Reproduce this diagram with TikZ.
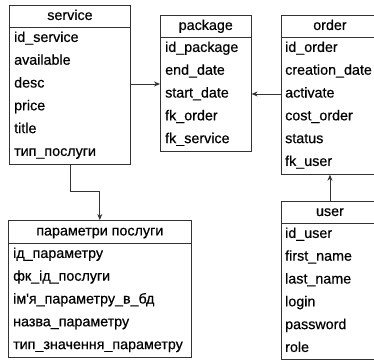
\documentclass[tikz,border=0pt]{standalone}
\usepackage{fontspec}
\setmainfont{Liberation Sans}[Ligatures=TeXOff, FakeBold=0.5]
\usetikzlibrary{arrows.meta}
\tikzset{
 tbox/.style={draw=black!80, line width=0.9pt, anchor=north west, inner sep=0pt},
 thead/.style={draw=black!80, line width=0.9pt, anchor=north west, inner sep=0pt, minimum height=22pt, text height=10pt, text depth=3pt},
 trow/.style={anchor=west, inner sep=0pt, text height=10pt, text depth=3pt},
 conn/.style={draw=black!80, line width=0.9pt, -{Stealth[length=6pt,width=5pt]}}
}
\begin{document}
\begin{tikzpicture}[x=1pt,y=-1pt,font=\fontsize{14.3}{16}\selectfont]
\useasboundingbox (0,0) rectangle (374,360);
\clip (0,0) rectangle (374,360);
% service
\node[tbox, minimum width=121pt, minimum height=158.8pt] (service) at (9,5) {};
\node[thead, minimum width=121pt] (service-h) at (9,5) {service};
\foreach \t [count=\i] in {id\_service, available, desc, price, title, тип\_послуги}
  \node[trow] (service-\i) at (14, {27+11.4+(\i-1)*22.8}) {\t};
% package
\node[tbox, minimum width=90.7pt, minimum height=136pt] (package) at (160,15) {};
\node[thead, minimum width=90.7pt] (package-h) at (160,15) {package};
\foreach \t [count=\i] in {id\_package, end\_date, start\_date, fk\_order, fk\_service}
  \node[trow] (package-\i) at (165, {37+11.4+(\i-1)*22.8}) {\t};
% order
\node[tbox, minimum width=97pt, minimum height=158.8pt] (order) at (281,15) {};
\node[thead, minimum width=97pt] (order-h) at (281,15) {order};
\foreach \t [count=\i] in {id\_order, creation\_date, activate, cost\_order, status, fk\_user}
  \node[trow] (order-\i) at (285, {37+11.4+(\i-1)*22.8}) {\t};
% user
\node[tbox, minimum width=97pt, minimum height=158pt] (user) at (281,201) {};
\node[thead, minimum width=97pt] (user-h) at (281,201) {user};
\foreach \t [count=\i] in {id\_user, first\_name, last\_name, login, password, role}
  \node[trow] (user-\i) at (285, {223+11.4+(\i-1)*22.8}) {\t};
% params
\node[tbox, minimum width=182.7pt, minimum height=137pt] (params) at (8,220) {};
\node[thead, minimum width=182.7pt, minimum height=23pt] (params-h) at (8,220) {параметри послуги};
\foreach \t [count=\i] in {ід\_параметру, фк\_ід\_послуги, ім'я\_параметру\_в\_бд, назва\_параметру, тип\_значення\_параметру}
  \node[trow] (params-\i) at (13, {243+11.4+(\i-1)*22.8}) {\t};
% connectors
\draw[conn] (service.east |- service-3) -- (package.west |- service-3);
\draw[conn] (order.west |- order-3) -- (package.east |- order-3);
\draw[conn] (user.north) -- (order.south);
\draw[conn] (service.south) -- ++(0,26.5) -| (params.north);
\end{tikzpicture}
\end{document}
